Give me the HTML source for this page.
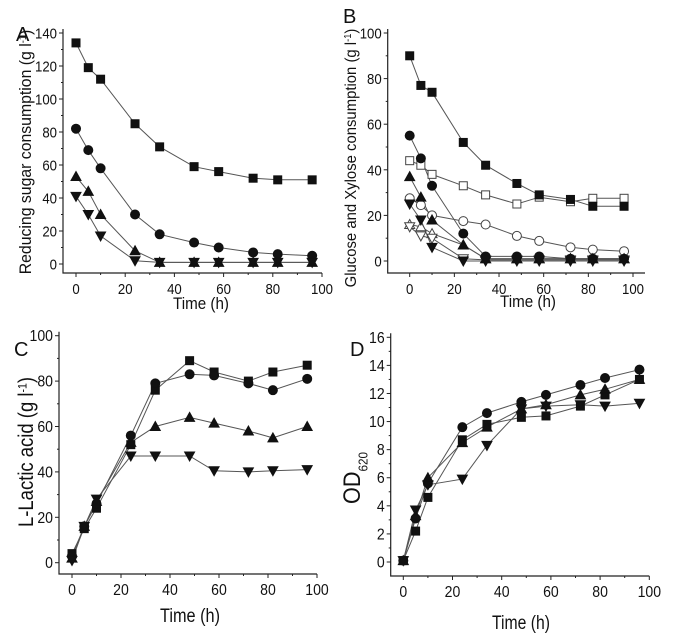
<!DOCTYPE html>
<html><head><meta charset="utf-8"><style>
body{margin:0;background:#fff;}
svg{display:block;font-family:"Liberation Sans",sans-serif;}
</style></head><body>
<svg id="chart" width="685" height="638" viewBox="0 0 685 638"></svg>
<script>
const timeH = [0,5,10,24,34,48,58,72,82,96];
// Panel A: reducing sugar
const aSquare = [134,119,112,85,71,59,56,52,51,51];
const aCircle = [82,69,58,30,18,13,10,7,6,5];
const aUp = [53,44,30,8,1,1,1,1,1,1];
const aDown = [41,30,17,2,1,1,1,1,1,1];
const aTicks = [0,20,40,60,80,100,120,140];
// Panel B: glucose & xylose
const bSquare = [90,77,74,52,42,34,29,27,24,24];
const bSquareOpen = [44,42,38,33,29,25,28,26,27.5,27.5];
const bCircle = [55,45,33,12,2,2,2,1,1,1];
const bCircleOpen = [27.5,24.5,20,17.5,16,11,8.8,6,5,4.3];
const bUp = [37,28,18,7,1,1,1,1,1,1];
const bUpOpen = [16,15,12,7,1,1,1,1,1,1];
const bDown = [25,18,6,0,0,0,0,0,0,0];
const bDownOpen = [15,11,10,1,0.5,0.5,0.5,0.5,0.5,0.5];
const bTicks = [0,20,40,60,80,100];
// Panel C: L-lactic acid
const cSquare = [4,15,24,52,76,89,84,80,84,87];
const cCircle = [3,16,26,56,79,83,82.5,79,76,81];
const cUp = [2,16,27,53,60,64,61.5,58,55,60];
const cDown = [1,16,28,47,47,47,40.5,40,40.5,41];
const cTicks = [0,20,40,60,80,100];
// Panel D: OD620
const dSquare = [0.1,2.2,4.6,8.7,9.8,10.3,10.4,11.1,11.9,13.0];
const dCircle = [0.1,3.1,5.6,9.6,10.6,11.4,11.9,12.6,13.1,13.7];
const dUp = [0.1,3.3,6.0,8.5,9.6,10.9,11.2,11.9,12.3,13.0];
const dDown = [0.1,3.7,5.5,5.9,8.3,10.9,11.1,11.2,11.1,11.3];
const dTicks = [0,2,4,6,8,10,12,14,16];
const xTicks = [0,20,40,60,80,100];

const NS = "http://www.w3.org/2000/svg";
const svg = document.getElementById('chart');
function mk(tag, attrs, parent){
  const e = document.createElementNS(NS, tag);
  for (const k in attrs) e.setAttribute(k, attrs[k]);
  (parent||svg).appendChild(e);
  return e;
}
function marker(g, shape, fill, cx, cy){
  const s = 4;
  const st = {fill: fill, stroke: fill==='#fff' ? '#444' : '#111', 'stroke-width': 1};
  let m;
  if (shape==='sq') m = mk('rect', Object.assign({x:cx-s,y:cy-s,width:2*s,height:2*s}, st), g);
  else if (shape==='ci') m = mk('circle', Object.assign({cx:cx,cy:cy,r:s+0.5}, st), g);
  else if (shape==='up') m = mk('polygon', Object.assign({points:`${cx},${cy-s-1} ${cx+s+1},${cy+s} ${cx-s-1},${cy+s}`}, st), g);
  else m = mk('polygon', Object.assign({points:`${cx-s-1},${cy-s} ${cx+s+1},${cy-s} ${cx},${cy+s+1}`}, st), g);
  
  
}
function panel(p){
  const g = mk('g', {});
  
  
  const X = v => p.x0 + v * (p.x100 - p.x0) / 100;
  const Y = v => p.y0 - v * (p.y0 - p.yTop) / p.yMax;
  const ax = mk('path', {d:`M${p.left},${p.yTop-4} V${p.bottom} H${p.right}`, fill:'none', stroke:'#222', 'stroke-width':1.2}, g);
  
  
  const yt = p.yTicks;
  const ystep = yt[1]-yt[0];
  yt.forEach((v,i)=>{
    const y = Y(v);
    mk('line',{x1:p.left-4,x2:p.left,y1:y,y2:y,stroke:'#222'},g);
    if (i < yt.length-1) { const ym = Y(v+ystep/2); mk('line',{x1:p.left-2,x2:p.left,y1:ym,y2:ym,stroke:'#222'},g); }
    const t = mk('text',{x:0,y:0,'text-anchor':'end','font-size':p.tf+1,fill:'#111',transform:`translate(${p.left-6},${y+5.5}) scale(0.88,1)`},g);
    t.textContent = v;
    
    
  });
  xTicks.forEach((v,i)=>{
    const x = X(v);
    mk('line',{x1:x,x2:x,y1:p.bottom,y2:p.bottom+4,stroke:'#222'},g);
    if (i < xTicks.length-1) { const xm = X(v+10); mk('line',{x1:xm,x2:xm,y1:p.bottom,y2:p.bottom+2,stroke:'#222'},g); }
    const t = mk('text',{x:0,y:0,'text-anchor':'middle','font-size':p.tf+1,fill:'#111',transform:`translate(${x},${p.bottom+21}) scale(0.88,1)`},g);
    t.textContent = v;
    
    
  });
  const xt = mk('text',{x:p.xTitleX,y:p.xTitleY,'text-anchor':'middle','font-size':p.xtf,fill:'#111',textLength:p.xtl,lengthAdjust:'spacingAndGlyphs'},g);
  xt.textContent = 'Time (h)';
  
  
  const ytl = mk('text',{x:0,y:0,'text-anchor':'middle','font-size':p.yFont,fill:'#111',transform:`translate(${p.yTitleX},${p.yTitleY}) rotate(-90) scale(${p.ysx},1)`},g);
  ytl.innerHTML = p.yTitle;
  
  
  const lt = mk('text',{x:p.lx,y:p.ly,'font-size':20,fill:'#111'},g);
  lt.textContent = p.letter;
  
  
  p.series.forEach(s=>{
    const sg = mk('g',{},g);
    
    
    const pts = s.vals.map((v,i)=>X(timeH[i]).toFixed(1)+','+Y(v).toFixed(1)).join(' ');
    mk('polyline',{points:pts,fill:'none',stroke:'#555','stroke-width':1},sg);
  });
  p.series.forEach(s=>{
    const sg = mk('g',{},g);
    
    
    s.vals.forEach((v,i)=>marker(sg, s.shape, s.fill, X(timeH[i]), Y(v)));
  });
}
panel({letter:'A', lx:16, ly:41, x0:76, x100:322, left:63, right:322, bottom:273, y0:264, yTop:33, yMax:140, yTicks:aTicks, tf:14,
  xTitleX:201, xTitleY:309, xtf:17, xtl:56, yTitleX:31, yTitleY:152, yFont:17, ysx:0.93,
  yTitle:'Reducing sugar consumption (g l<tspan baseline-shift="super" font-size="10">-1</tspan>)',
  series:[{name:'square',vals:aSquare,shape:'sq',fill:'#111'},{name:'circle',vals:aCircle,shape:'ci',fill:'#111'},
          {name:'triangle-up',vals:aUp,shape:'up',fill:'#111'},{name:'triangle-down',vals:aDown,shape:'dn',fill:'#111'}]});
panel({letter:'B', lx:343, ly:23, x0:409.7, x100:633, left:387.7, right:645, bottom:273, y0:261, yTop:33, yMax:100, yTicks:bTicks, tf:14,
  xTitleX:528, xTitleY:307, xtf:17, xtl:56, yTitleX:356, yTitleY:158, yFont:16, ysx:0.93,
  yTitle:'Glucose and Xylose consumption (g l<tspan baseline-shift="super" font-size="10">-1</tspan>)',
  series:[{name:'square-open',vals:bSquareOpen,shape:'sq',fill:'#fff'},{name:'circle-open',vals:bCircleOpen,shape:'ci',fill:'#fff'},
          {name:'triangle-up-open',vals:bUpOpen,shape:'up',fill:'#fff'},{name:'triangle-down-open',vals:bDownOpen,shape:'dn',fill:'#fff'},
          {name:'square',vals:bSquare,shape:'sq',fill:'#111'},{name:'circle',vals:bCircle,shape:'ci',fill:'#111'},
          {name:'triangle-up',vals:bUp,shape:'up',fill:'#111'},{name:'triangle-down',vals:bDown,shape:'dn',fill:'#111'}]});
panel({letter:'C', lx:14, ly:356, x0:72, x100:317, left:59, right:317, bottom:574, y0:562.7, yTop:335.7, yMax:100, yTicks:cTicks, tf:15,
  xTitleX:190, xTitleY:622, xtf:19, xtl:60, yTitleX:33, yTitleY:452, yFont:21, ysx:0.88,
  yTitle:'L-Lactic acid (g l<tspan baseline-shift="super" font-size="12">-1</tspan>)',
  series:[{name:'square',vals:cSquare,shape:'sq',fill:'#111'},{name:'circle',vals:cCircle,shape:'ci',fill:'#111'},
          {name:'triangle-up',vals:cUp,shape:'up',fill:'#111'},{name:'triangle-down',vals:cDown,shape:'dn',fill:'#111'}]});
panel({letter:'D', lx:350, ly:356, x0:403.3, x100:649.3, left:390.7, right:649.3, bottom:576, y0:562, yTop:337.3, yMax:16, yTicks:dTicks, tf:15,
  xTitleX:521, xTitleY:629, xtf:19, xtl:58, yTitleX:360, yTitleY:478, yFont:24, ysx:0.9,
  yTitle:'OD<tspan baseline-shift="sub" font-size="13">620</tspan>',
  series:[{name:'square',vals:dSquare,shape:'sq',fill:'#111'},{name:'circle',vals:dCircle,shape:'ci',fill:'#111'},
          {name:'triangle-up',vals:dUp,shape:'up',fill:'#111'},{name:'triangle-down',vals:dDown,shape:'dn',fill:'#111'}]});
</script>
</body></html>
